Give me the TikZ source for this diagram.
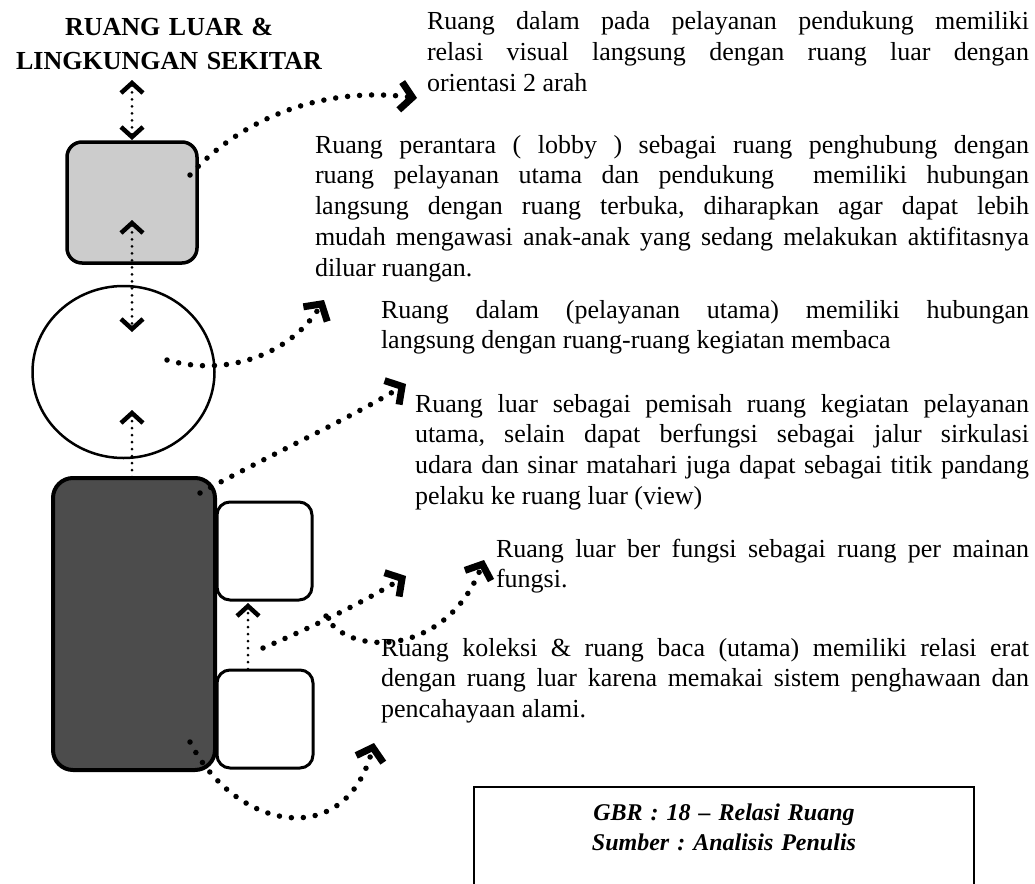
\documentclass[tikz,border=0pt]{standalone}
\usepackage{fontspec}
\setmainfont{Liberation Serif}
\usetikzlibrary{arrows.meta,shapes.geometric}
\newcommand{\jl}[1]{{\spaceskip=0pt\relax\xspaceskip=0pt\relax\makebox[\hsize][s]{#1}}}
\tikzset{
  smallhead/.tip={Straight Barb[length=10pt,width=22pt,line width=4.5pt]},
  bighead/.tip={Straight Barb[length=12pt,width=28pt,line width=7pt]},
}
\frenchspacing
\begin{document}
\begin{tikzpicture}[x=1pt,y=-1pt,
  body/.style={anchor=base west, inner sep=0pt, outer sep=0pt, align=justify,
    font=\fontsize{26}{30.8}\selectfont\frenchspacing},
  roombox/.style={draw, rounded corners=13pt, line width=3pt, fill=white, inner sep=0pt},
  bigdots/.style={line width=5.5pt, line cap=round, dash pattern=on 0pt off 12pt, -{bighead}},
  smalldots/.style={line width=3pt, line cap=round, dash pattern=on 0pt off 7pt},
]
\useasboundingbox (0,0) rectangle (1035,883);

% title
\node[anchor=base, inner sep=0pt, align=center, text width=330pt,
  font=\fontsize{26}{33}\selectfont\bfseries]
  (title) at (169,36) {RUANG LUAR \&\\LINGKUNGAN SEKITAR};

% rooms
\node[draw, rounded corners=15pt, line width=3.5pt, fill=black!20, inner sep=0pt,
  minimum width=130pt, minimum height=121pt] (lobby) at (132,202.5) {};
\node[draw, ellipse, line width=2.5pt, inner sep=0pt,
  minimum width=182pt, minimum height=172pt] (utama) at (123.5,372) {};
\node[draw, rounded corners=20pt, line width=4pt, fill=black!70, inner sep=0pt,
  minimum width=162pt, minimum height=292pt] (koleksi) at (134,624) {};
\node[roombox, minimum width=95pt, minimum height=98pt] (baca) at (264.5,551) {};
\node[roombox, minimum width=96pt, minimum height=98pt] (main) at (265,719) {};

% vertical arrows
\coordinate (t1) at (132,80);
\coordinate (t2) at (132,140);
\draw[smalldots, {smallhead}-{smallhead}] (t1) -- (t2);
\coordinate (l1) at (132,220);
\coordinate (l2) at (132,332);
\draw[smalldots, {smallhead}-{smallhead}] (l1) -- (l2);
\coordinate (u1) at (132,477);
\coordinate (u2) at (132,410);
\draw[smalldots, -{smallhead}] (u1) -- (u2);
\coordinate (b1) at (248,669);
\coordinate (b2) at (248,603);
\draw[smalldots, -{smallhead}] (b1) -- (b2);

% curved dotted arrows
\coordinate (c1s) at (190,175);
\coordinate (c1e) at (417,98);
\draw[bigdots] (c1s) .. controls (240,120) and (320,86) .. (c1e);
\coordinate (c2s) at (167,360);
\coordinate (c2e) at (324,300);
\draw[bigdots] (c2s) .. controls (230,378) and (292,352) .. (c2e);
\coordinate (c3s) at (200,493);
\coordinate (c3e) at (406,384);
\draw[bigdots] (c3s) .. controls (280,450) and (350,418) .. (c3e);
\coordinate (c4s) at (263,648);
\coordinate (c4e) at (406,576);
\draw[bigdots] (c4s) .. controls (310,628) and (360,604) .. (c4e);
\coordinate (c5s) at (326,616);
\coordinate (c5e) at (484,560);
\draw[bigdots] (c5s) .. controls (345,655) and (445,660) .. (c5e);
\coordinate (c6s) at (190,742);
\coordinate (c6e) at (374,743);
\draw[bigdots] (c6s) .. controls (235,830) and (345,852) .. (c6e);

% texts
\node[body, text width=602pt] (p1) at (427,30)
 {\jl{Ruang dalam pada pelayanan pendukung memiliki}\\
  \jl{relasi visual langsung dengan ruang luar dengan}\\
  orientasi 2 arah};
\node[body, text width=714pt] (p2) at (315,153)
 {\jl{Ruang perantara ( lobby ) sebagai ruang penghubung dengan}\\
  \jl{ruang pelayanan utama dan pendukung \ memiliki hubungan}\\
  \jl{langsung dengan ruang terbuka, diharapkan agar dapat lebih}\\
  \jl{mudah mengawasi anak-anak yang sedang melakukan aktifitasnya}\\
  diluar ruangan.};
\node[body, text width=648pt] (p3) at (381,318)
 {\jl{Ruang dalam (pelayanan utama) memiliki hubungan}\\
  langsung dengan ruang-ruang kegiatan membaca};
\node[body, text width=614pt] (p4) at (415,412)
 {\jl{Ruang luar sebagai pemisah ruang kegiatan pelayanan}\\
  \jl{utama, selain dapat berfungsi sebagai jalur sirkulasi}\\
  \jl{udara dan sinar matahari juga dapat sebagai titik pandang}\\
  pelaku ke ruang luar (view)};
\node[body, text width=533pt] (p5) at (496,557)
 {\jl{Ruang luar ber fungsi sebagai ruang per mainan}\\
  fungsi.};
\node[body, text width=648pt] (p6) at (381,656)
 {\jl{Ruang koleksi \& ruang baca (utama) memiliki relasi erat}\\
  \jl{dengan ruang luar karena memakai sistem penghawaan dan}\\
  pencahayaan alami.};

% caption
\coordinate (capBL) at (474,884);
\coordinate (capTL) at (474,787);
\coordinate (capTR) at (974,787);
\coordinate (capBR) at (974,884);
\draw[line width=2pt] (capBL) -- (capTL) -- (capTR) -- (capBR);
\node[anchor=base, inner sep=0pt, align=center, text width=480pt,
  font=\fontsize{24}{30}\selectfont\bfseries\itshape\frenchspacing] (caption) at (724,820)
  {GBR : 18 -- Relasi Ruang\\Sumber : Analisis Penulis};
\end{tikzpicture}
\end{document}
